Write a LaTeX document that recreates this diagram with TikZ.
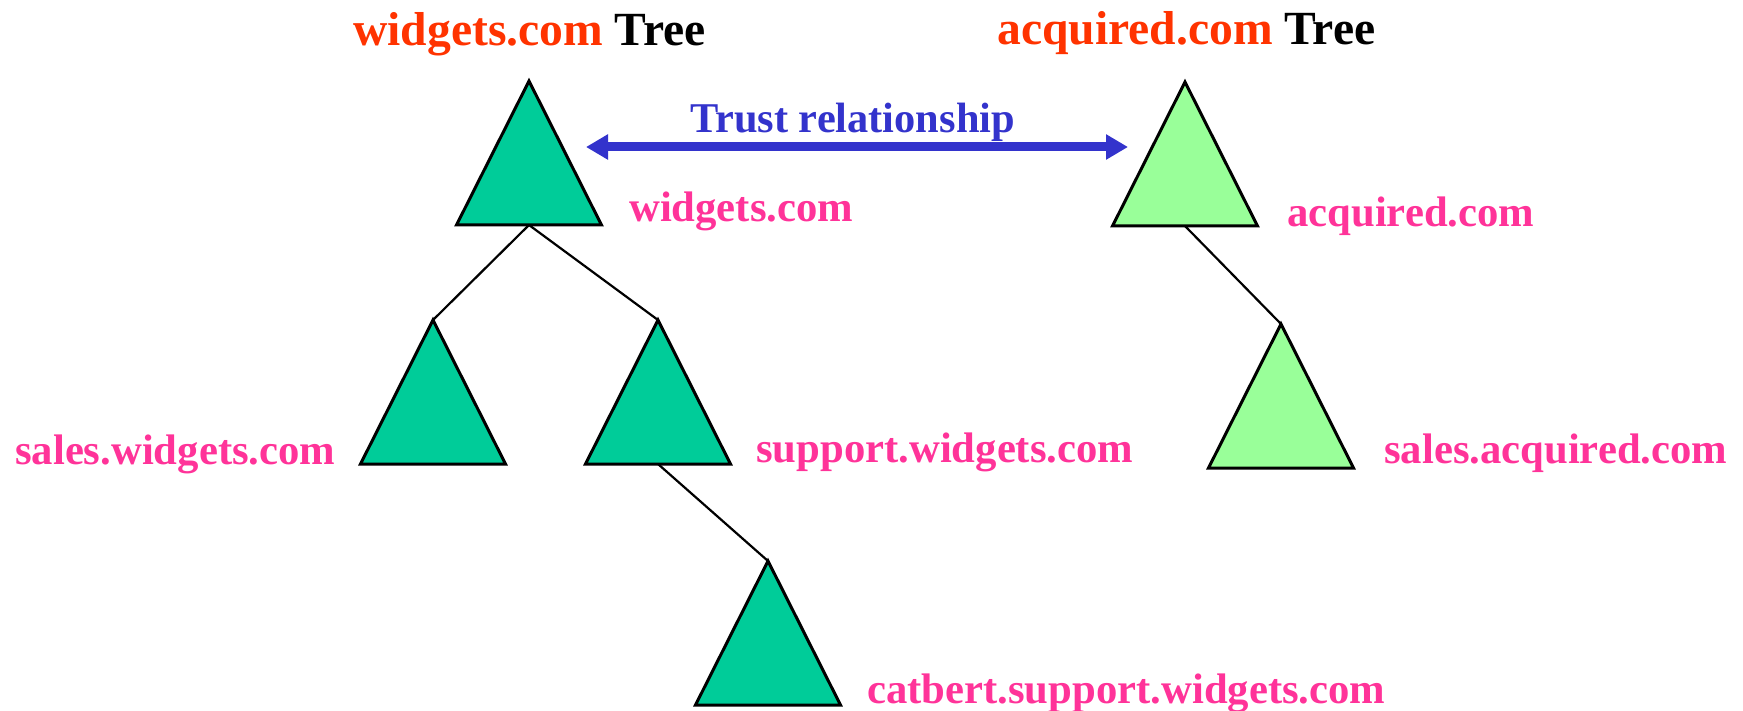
\documentclass[tikz,border=0pt]{standalone}
\usepackage{fontspec}
\setmainfont{Liberation Serif}
\usetikzlibrary{arrows.meta}

\definecolor{domgreen}{RGB}{0,204,153}
\definecolor{acqgreen}{RGB}{153,255,153}
\definecolor{labelpink}{RGB}{255,51,153}
\definecolor{titlered}{RGB}{255,51,0}
\definecolor{trustblue}{RGB}{51,51,204}

\tikzset{
  domtri/.style={draw=black, line width=3pt, line join=miter},
  branch/.style={draw=black, line width=2.2pt},
  domlabel/.style={anchor=base west, inner sep=0pt, text=labelpink,
    font=\fontsize{42.7}{48}\selectfont\bfseries},
  treetitle/.style={anchor=base west, inner sep=0pt, text=black,
    font=\fontsize{47.6}{54}\selectfont\bfseries},
  trustlabel/.style={anchor=base west, inner sep=0pt, text=trustblue,
    font=\fontsize{42.4}{48}\selectfont\bfseries},
  trust/.style={draw=trustblue, line width=9pt,
    {Triangle[length=22pt,width=24pt]}-{Triangle[length=22pt,width=24pt]}}
}

% \domaintri{name}{apex x}{apex y}{fill}: a domain triangle, 145 wide and 144 high,
% with named coordinates at its apex (name-top) and the middle of its base (name-base)
\newcommand\domaintri[4]{%
  \coordinate (#1-top) at (#2,#3);
  \coordinate (#1-base) at (#2,#3+144);
  \filldraw[domtri, fill=#4] (#1-top) -- ++(72.5,144) -- ++(-145,0) -- cycle;
}

\begin{document}
\begin{tikzpicture}[x=1pt, y=-1pt]
  \useasboundingbox (0,0) rectangle (1743,711);

  % tree titles
  \node[treetitle] (title-w) at (353,46) {\textcolor{titlered}{widgets.com} Tree};
  \node[treetitle] (title-a) at (997,45) {\textcolor{titlered}{acquired.com} Tree};

  % domain triangles
  \domaintri{widgets}{529}{81}{domgreen}
  \domaintri{sales}{433}{320}{domgreen}
  \domaintri{support}{658}{320}{domgreen}
  \domaintri{catbert}{768}{561}{domgreen}
  \domaintri{acquired}{1185}{82}{acqgreen}
  \domaintri{acqsales}{1281}{324}{acqgreen}

  % parent-child links
  \draw[branch] (widgets-base) -- (sales-top);
  \draw[branch] (widgets-base) -- (support-top);
  \draw[branch] (support-base) -- (catbert-top);
  \draw[branch] (acquired-base) -- (acqsales-top);

  % trust between the two tree roots
  \coordinate (trust-l) at (586,147);
  \coordinate (trust-r) at (1128,147);
  \draw[trust] (trust-l) -- (trust-r);
  \node[trustlabel] (trust-text) at (690,133) {Trust relationship};

  % domain names
  \node[domlabel] (lbl-widgets) at (629,222) {widgets.com};
  \node[domlabel] (lbl-acquired) at (1287,227) {acquired.com};
  \node[domlabel] (lbl-sales) at (15,464) {sales.widgets.com};
  \node[domlabel] (lbl-support) at (756,462) {support.widgets.com};
  \node[domlabel] (lbl-acqsales) at (1384,463) {sales.acquired.com};
  \node[domlabel] (lbl-catbert) at (867,703) {catbert.support.widgets.com};
\end{tikzpicture}
\end{document}
